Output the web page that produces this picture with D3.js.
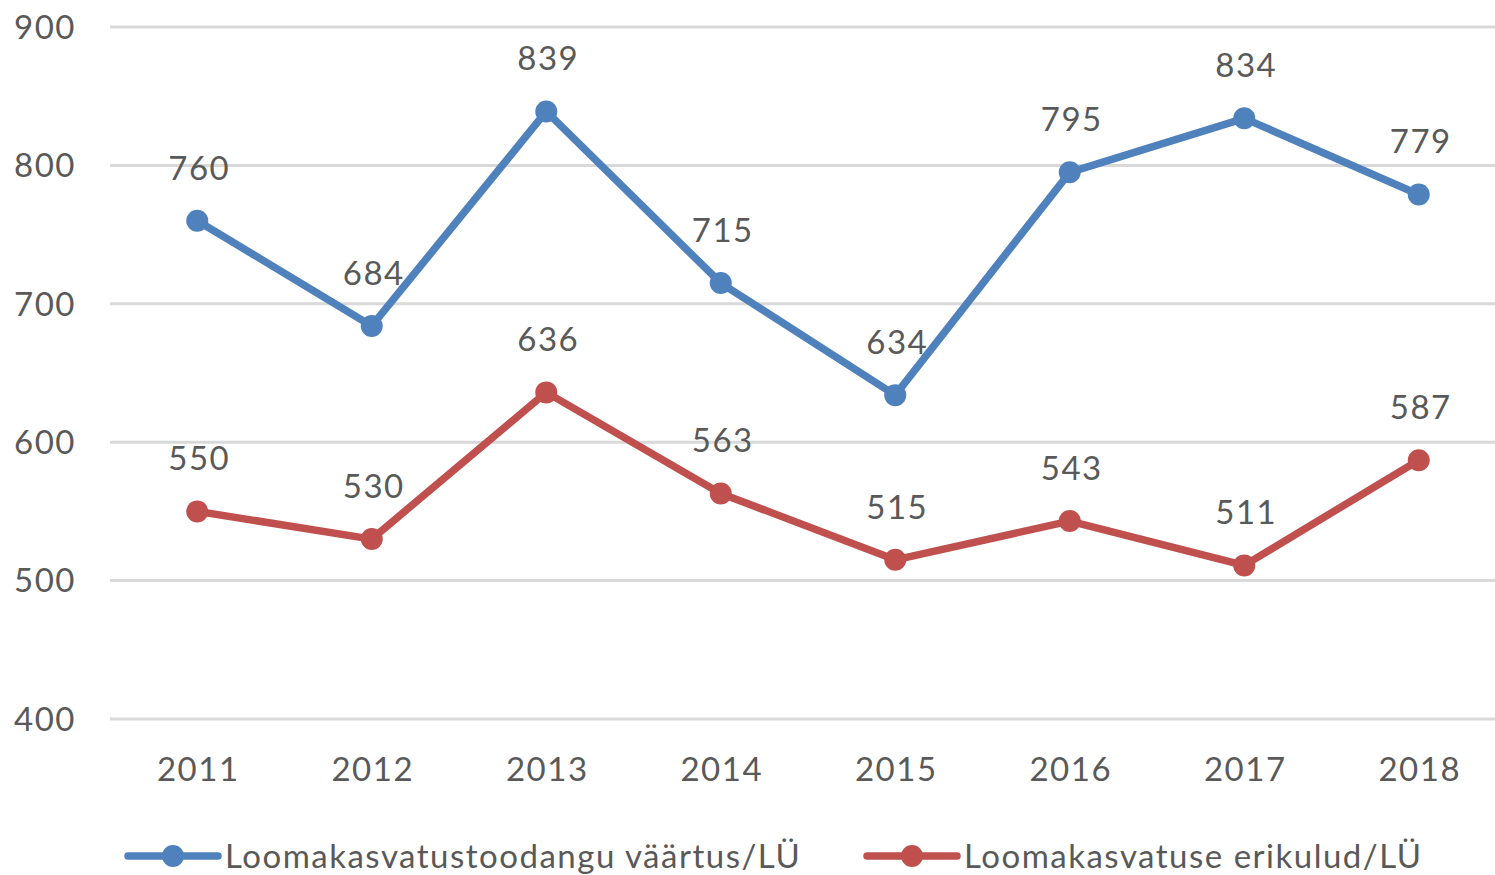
<!DOCTYPE html>
<html>
<head>
<meta charset="utf-8">
<script src="https://cdn.jsdelivr.net/npm/d3@7"></script>
<style>
  body { margin: 0; background: #fff; }
  svg { display: block; font-family: Lato, "Open Sans", sans-serif; }
  .grid line { stroke: #d9d9d9; stroke-width: 3; }
  .tick-label, .data-label, .legend-label { fill: #595959; letter-spacing: 1.5px; }
</style>
</head>
<body>
<svg width="1495" height="875"></svg>
<script>
// data
// ----------------------------------
const years = ['2011', '2012', '2013', '2014', '2015', '2016', '2017', '2018'];
const production = [760, 684, 839, 715, 634, 795, 834, 779];
const costs = [550, 530, 636, 563, 515, 543, 511, 587];
const yTicks = [400, 500, 600, 700, 800, 900];
const seriesNames = ['Loomakasvatustoodangu väärtus/LÜ', 'Loomakasvatuse erikulud/LÜ'];
const seriesColors = ['#4f81bd', '#c0504d'];

const series = [production, costs].map((values, i) => ({
  name: seriesNames[i],
  color: seriesColors[i],
  points: values.map((v, j) => ({year: years[j], value: v})),
}));

// 0. setup scales
// ----------------------------------
const svg = d3.select('svg');

const x = d3.scaleBand()
    .domain(years)
    .range([110, 1506]);

const y = d3.scaleLinear()
    .domain([400, 900])
    .range([719, 27]);

const cx = (d) => x(d) + x.bandwidth() / 2;

// 1. gridlines and axes
// ----------------------------------
const grid = svg.append('g').classed('grid', true);

grid.selectAll('line')
    .data(yTicks)
    .enter()
    .append('line')
    .attr('x1', 110)
    .attr('x2', 1495)
    .attr('y1', (d) => y(d))
    .attr('y2', (d) => y(d));

svg.append('g').selectAll('text')
    .data(yTicks)
    .enter()
    .append('text')
    .classed('tick-label', true)
    .attr('x', 76)
    .attr('y', (d) => y(d))
    .attr('dy', '0.36em')
    .attr('text-anchor', 'end')
    .style('font-size', '33px')
    .text((d) => d);

svg.append('g').selectAll('text')
    .data(years)
    .enter()
    .append('text')
    .classed('tick-label', true)
    .attr('x', (d) => cx(d) + 1)
    .attr('y', 781)
    .attr('text-anchor', 'middle')
    .style('font-size', '33px')
    .text((d) => d);

// 2. lines, markers, labels
// ----------------------------------
const line = d3.line()
    .x((d) => cx(d.year))
    .y((d) => y(d.value));

const groups = svg.selectAll('.series')
    .data(series)
    .enter()
    .append('g')
    .classed('series', true);

groups.append('path')
    .attr('d', (d) => line(d.points))
    .attr('fill', 'none')
    .attr('stroke', (d) => d.color)
    .attr('stroke-width', 7.5)
    .attr('stroke-linejoin', 'round');

groups.each(function(s) {
  const g = d3.select(this);
  g.selectAll('circle')
      .data(s.points)
      .enter()
      .append('circle')
      .attr('cx', (d) => cx(d.year))
      .attr('cy', (d) => y(d.value))
      .attr('r', 11)
      .attr('fill', s.color);

  g.selectAll('text')
      .data(s.points)
      .enter()
      .append('text')
      .classed('data-label', true)
      .attr('x', (d) => cx(d.year) + 2)
      .attr('y', (d) => y(d.value) - 41)
      .attr('text-anchor', 'middle')
      .style('font-size', '33px')
      .text((d) => d.value);
});

// 3. legend
// ----------------------------------
const legendX = [128, 867];
const legend = svg.selectAll('.legend')
    .data(series)
    .enter()
    .append('g')
    .classed('legend', true)
    .attr('transform', (d, i) => `translate(${legendX[i]},856)`);

legend.append('line')
    .attr('x1', 0)
    .attr('x2', 90)
    .attr('stroke', (d) => d.color)
    .attr('stroke-width', 7.5)
    .attr('stroke-linecap', 'round');

legend.append('circle')
    .attr('cx', 45)
    .attr('r', 11)
    .attr('fill', (d) => d.color);

legend.append('text')
    .classed('legend-label', true)
    .attr('x', 97)
    .attr('dy', '0.36em')
    .style('font-size', '33px')
    .text((d) => d.name);
</script>
</body>
</html>
